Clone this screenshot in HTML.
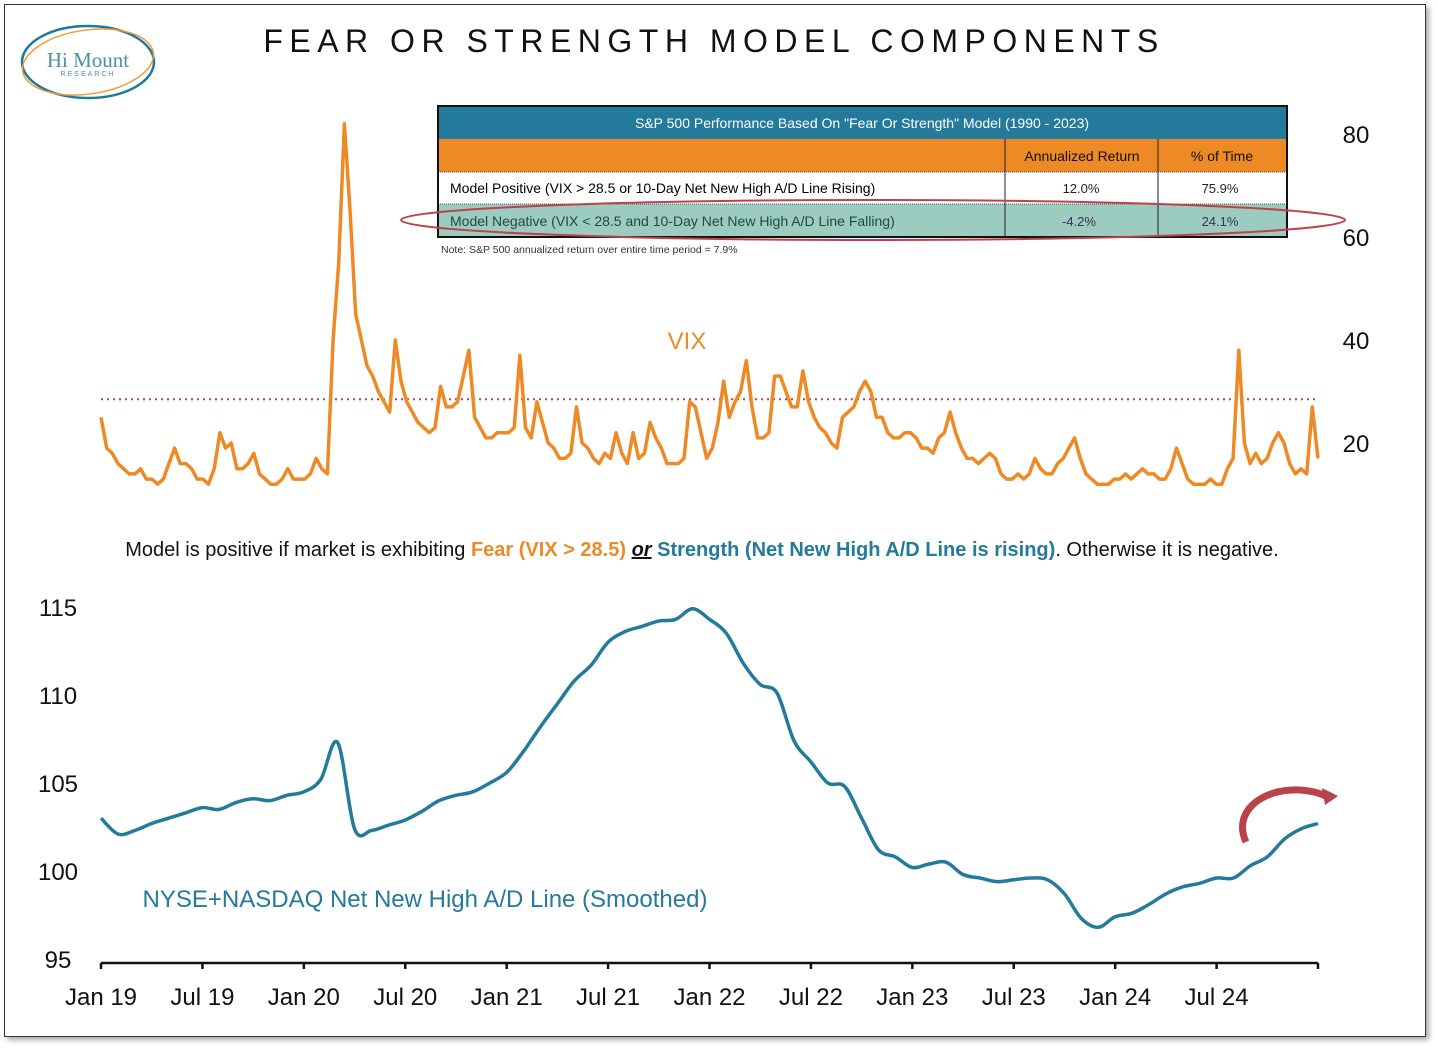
<!DOCTYPE html>
<html><head><meta charset="utf-8"><style>
body{margin:0;background:#fff;font-family:"Liberation Sans",sans-serif}
#wrap{position:relative;width:1438px;height:1049px;overflow:hidden}
#frame{position:absolute;left:4px;top:4px;width:1420px;height:1031px;border:1.5px solid #333;box-shadow:3px 3px 5px #aaa;background:#fff}
</style></head><body>
<div id="wrap">
<div id="frame"></div>
<svg id="svg" width="1438" height="1049" style="position:absolute;left:0;top:0">
<g>
<ellipse cx="88" cy="62" rx="66" ry="36" fill="none" stroke="#1e7a9a" stroke-width="2.5"/>
<ellipse cx="88" cy="62" rx="66" ry="32" fill="none" stroke="#ef9a3a" stroke-width="1.5" transform="rotate(-8 88 62)"/>
<text x="88" y="67" text-anchor="middle" font-family="Liberation Serif" font-size="21" fill="#4a8fac">Hi Mount</text>
<text x="88" y="76" text-anchor="middle" font-size="7" letter-spacing="2" fill="#4a8fac">RESEARCH</text>
</g>
<text x="714" y="52" text-anchor="middle" font-size="32" letter-spacing="6.5" fill="#111" font-weight="300">FEAR OR STRENGTH MODEL COMPONENTS</text>
<g font-family="Liberation Sans" font-size="14">
<rect x="438" y="106" width="849" height="33" fill="#237a9a"/>
<text x="862" y="128" text-anchor="middle" fill="#fff">S&amp;P 500 Performance Based On "Fear Or Strength" Model (1990 - 2023)</text>
<rect x="438" y="139" width="849" height="33" fill="#ed8a25"/>
<text x="1082" y="161" text-anchor="middle" fill="#111">Annualized Return</text>
<text x="1222" y="161" text-anchor="middle" fill="#111">% of Time</text>
<rect x="438" y="204" width="849" height="33" fill="#9ccbbf"/>
<text x="450" y="193" fill="#000">Model Positive (VIX &gt; 28.5 or 10-Day Net New High A/D Line Rising)</text>
<text x="1081" y="193" text-anchor="middle" font-size="13" fill="#222">12.0%</text>
<text x="1220" y="193" text-anchor="middle" font-size="13" fill="#222">75.9%</text>
<text x="450" y="226" fill="#1f4a40">Model Negative (VIX &lt; 28.5 and 10-Day Net New High A/D Line Falling)</text>
<text x="1079" y="226" text-anchor="middle" font-size="13" fill="#335">-4.2%</text>
<text x="1220" y="226" text-anchor="middle" font-size="13" fill="#335">24.1%</text>
<line x1="438" y1="172" x2="1287" y2="172" stroke="#555" stroke-dasharray="1 1"/>
<line x1="438" y1="204" x2="1287" y2="204" stroke="#555" stroke-dasharray="1 1"/>
<line x1="1005" y1="139" x2="1005" y2="237" stroke="#222"/>
<line x1="1158" y1="139" x2="1158" y2="237" stroke="#222"/>
<rect x="438" y="106" width="849" height="131" fill="none" stroke="#111" stroke-width="2"/>
<ellipse cx="873" cy="220" rx="472" ry="20" fill="none" stroke="#c0404a" stroke-width="2"/>
<text x="441" y="253" font-size="10.5" fill="#333">Note: S&amp;P 500 annualized return over entire time period = 7.9%</text>
</g>
<text x="687" y="349" text-anchor="middle" font-size="24" fill="#ed8a25">VIX</text>
<text x="702" y="556" text-anchor="middle" font-size="20" fill="#111">Model is positive if market is exhibiting <tspan fill="#ed8a25" font-weight="bold">Fear (VIX &gt; 28.5)</tspan> <tspan font-weight="bold" font-style="italic" text-decoration="underline">or</tspan> <tspan fill="#237a9a" font-weight="bold">Strength (Net New High A/D Line is rising)</tspan>. Otherwise it is negative.</text>
<text x="425" y="907" text-anchor="middle" font-size="24" fill="#237a9a">NYSE+NASDAQ Net New High A/D Line (Smoothed)</text>
<g id="vixg"></g><g id="adg"></g><g id="axes"></g>
<path d="M1246 842 C1232 812 1262 788 1300 790 C1315 791 1325 795 1331 799" fill="none" stroke="#b8434a" stroke-width="7"/>
<polygon points="1322,788 1338,796 1325,805" fill="#b8434a"/>
</svg>
</div>
<script>
const vixValues=[25,19,18,16,15,14,14,15,13,13,12,13,16,19,16,16,15,13,13,12,15,22,19,20,15,15,16,18,14,13,12,12,13,15,13,13,
13,14,17,15,14,40,55,82,65,45,40,35,33,30,28,26,40,32,28,26,24,23,22,23,31,27,27,28,33,38,25,23,21,21,22,22,
22,23,37,23,21,28,24,20,19,17,17,18,27,20,19,17,16,18,17,22,18,16,22,17,18,24,21,19,16,16,16,17,28,27,22,17,
19,24,32,25,28,30,36,27,21,21,22,33,33,30,27,27,34,28,25,23,22,20,19,25,26,27,30,32,30,25,25,22,21,21,22,22,
21,19,19,18,21,22,26,22,19,17,17,16,17,18,17,14,13,13,14,13,14,17,15,14,14,16,17,19,21,17,14,13,12,12,12,13,
13,14,13,14,15,14,14,13,13,15,19,16,13,12,12,12,13,12,12,15,17,38,20,16,18,16,17,20,22,20,16,14,15,14,27,17];
const adValues=[103.0,102.1,102.3,102.7,103.0,103.3,103.6,103.5,103.9,104.1,104.0,104.3,
104.5,105.2,107.3,102.4,102.3,102.6,102.9,103.4,104.0,104.3,104.5,105.0,
105.6,106.8,108.2,109.5,110.8,111.7,113.0,113.6,113.9,114.2,114.3,114.9,
114.3,113.5,111.8,110.6,110.1,107.4,106.2,105.0,104.8,103.0,101.2,100.8,
100.2,100.4,100.5,99.8,99.6,99.4,99.5,99.6,99.5,98.7,97.3,96.8,
97.4,97.6,98.1,98.7,99.1,99.3,99.6,99.6,100.3,100.8,101.8,102.4,102.7];
const xTickLabels=["Jan 19","Jul 19","Jan 20","Jul 20","Jan 21","Jul 21","Jan 22","Jul 22","Jan 23","Jul 23","Jan 24","Jul 24",""];
const vixTicks=[20,40,60,80];
const adTicks=[95,100,105,110,115];
const vixThreshold=28.5;
const NS="http://www.w3.org/2000/svg";
const X0=101,X1=1318;
const xM=m=>X0+(X1-X0)*m/72;
const yV=v=>443-(v-20)*5.15;
const yA=v=>871-(v-100)*17.6;
function mk(tag,attrs,parent,txt){const e=document.createElementNS(NS,tag);for(const k in attrs)e.setAttribute(k,attrs[k]);if(txt!==undefined)e.textContent=txt;parent.appendChild(e);return e;}
const vg=document.getElementById('vixg'),ag=document.getElementById('adg'),ax=document.getElementById('axes');
const th=mk('line',{x1:X0,x2:X1,y1:yV(vixThreshold),y2:yV(vixThreshold),stroke:'#c0404a','stroke-width':2,'stroke-dasharray':'2 4'},vg);


const vp=vixValues.map((v,i)=>(i?'L':'M')+xM(i*72/(vixValues.length-1)).toFixed(1)+' '+yV(v).toFixed(1)).join(' ');
const vl=mk('path',{d:vp,fill:'none',stroke:'#ed8a25','stroke-width':3.5,'stroke-linejoin':'round'},vg);


const pts=adValues.map((v,i)=>[xM(i*72/(adValues.length-1)),yA(v)]);
let ap='M'+pts[0][0].toFixed(1)+' '+pts[0][1].toFixed(1);
for(let i=0;i<pts.length-1;i++){const p0=pts[Math.max(0,i-1)],p1=pts[i],p2=pts[i+1],p3=pts[Math.min(pts.length-1,i+2)];
const c1=[p1[0]+(p2[0]-p0[0])/6,p1[1]+(p2[1]-p0[1])/6],c2=[p2[0]-(p3[0]-p1[0])/6,p2[1]-(p3[1]-p1[1])/6];
ap+=` C${c1[0].toFixed(1)} ${c1[1].toFixed(1)} ${c2[0].toFixed(1)} ${c2[1].toFixed(1)} ${p2[0].toFixed(1)} ${p2[1].toFixed(1)}`;}
const al=mk('path',{d:ap,fill:'none',stroke:'#237a9a','stroke-width':3.5,'stroke-linejoin':'round'},ag);


vixTicks.forEach(t=>{const e=mk('text',{x:1356,y:yV(t)+9,'text-anchor':'middle','font-size':24,fill:'#111'},ax,String(t));

});
adTicks.forEach(t=>{const e=mk('text',{x:58,y:yA(t)+9,'text-anchor':'middle','font-size':24,fill:'#111'},ax,String(t));

});
const base=mk('line',{x1:X0,x2:X1,y1:963,y2:963,stroke:'#111','stroke-width':2.5},ax);


xTickLabels.forEach((l,i)=>{const x=xM(i*6);
const tk=mk('line',{x1:x,x2:x,y1:963,y2:969,stroke:'#111','stroke-width':2.5},ax);


if(l){const e=mk('text',{x:x,y:1005,'text-anchor':'middle','font-size':24,fill:'#111'},ax,l);

}});
</script>
</body></html>
